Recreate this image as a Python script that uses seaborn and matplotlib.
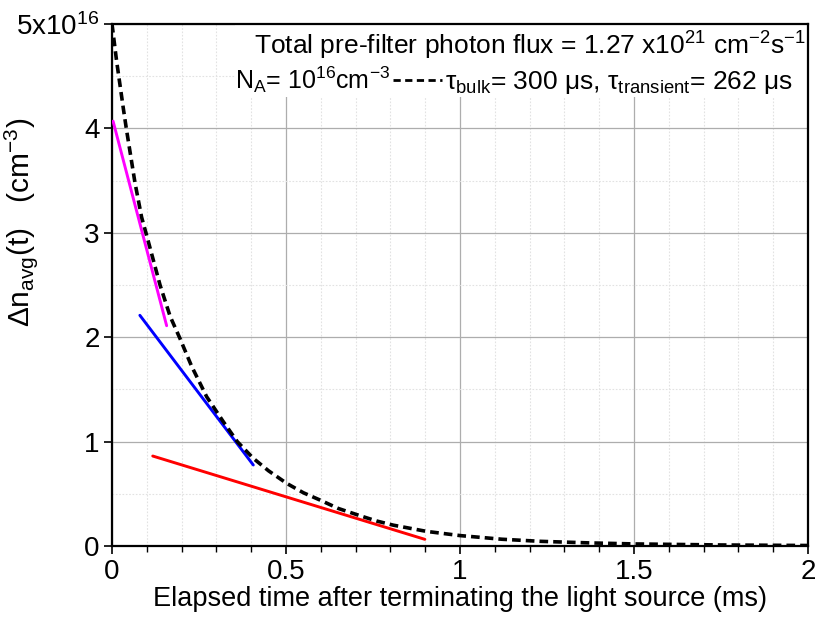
import numpy as np
import pandas as pd
import matplotlib
matplotlib.use("Agg")
import matplotlib.pyplot as plt
import seaborn as sns
from matplotlib.patches import Rectangle
from matplotlib.ticker import MultipleLocator, FixedLocator

# ---- data (values in units of 1e16 cm^-3, time in ms) ----
t_decay = [0, 0.013, 0.033, 0.042, 0.066, 0.085, 0.1, 0.138, 0.167, 0.195, 0.229,
           0.272, 0.32, 0.36, 0.406, 0.45, 0.502, 0.55, 0.598, 0.65, 0.713, 0.76,
           0.808, 0.904, 1.0, 1.12, 1.23, 1.37, 1.5, 1.75, 2.0]
n_decay = [5.0, 4.65, 4.18, 3.98, 3.48, 3.15, 2.97, 2.50, 2.20, 1.99, 1.72,
           1.43, 1.19, 1.0, 0.84, 0.72, 0.60, 0.51, 0.44, 0.36, 0.29, 0.24,
           0.20, 0.14, 0.10, 0.065, 0.045, 0.03, 0.02, 0.01, 0.005]
t_magenta = [0.003, 0.157]
n_magenta = [4.07, 2.11]
t_blue = [0.080, 0.406]
n_blue = [2.21, 0.776]
t_red = [0.117, 0.899]
n_red = [0.862, 0.064]

x_ticks = [0, 0.5, 1, 1.5, 2]
x_ticklabels = ["0", "0.5", "1", "1.5", "2"]
y_ticks = [0, 1, 2, 3, 4, 5]
y_ticklabels = ["0", "1", "2", "3", "4", "5x10$^{16}$"]

sns.set_style("ticks")
plt.rcParams["font.family"] = ["Liberation Sans", "DejaVu Sans"]
plt.rcParams["mathtext.fontset"] = "custom"
plt.rcParams["mathtext.rm"] = "Liberation Sans"
plt.rcParams["mathtext.it"] = "Liberation Sans:italic"
plt.rcParams["mathtext.bf"] = "Liberation Sans:bold"
plt.rcParams["text.color"] = "black"
plt.rcParams["axes.labelcolor"] = "black"
plt.rcParams["xtick.color"] = "black"
plt.rcParams["ytick.color"] = "black"
plt.rcParams["xtick.labelcolor"] = "black"
plt.rcParams["ytick.labelcolor"] = "black"

fig = plt.figure(figsize=(8.17, 6.19), dpi=100)
ax = fig.add_axes([0.1371, 0.1179, 0.8519, 0.8433])

df_decay = pd.DataFrame({"t": t_decay, "n": n_decay})
df_mag = pd.DataFrame({"t": t_magenta, "n": n_magenta})
df_blue = pd.DataFrame({"t": t_blue, "n": n_blue})
df_red = pd.DataFrame({"t": t_red, "n": n_red})

sns.lineplot(data=df_mag, x="t", y="n", ax=ax, color="#ff00ff", lw=2.1, estimator=None, zorder=3)
sns.lineplot(data=df_blue, x="t", y="n", ax=ax, color="#0000ff", lw=2.1, estimator=None, zorder=3)
sns.lineplot(data=df_red, x="t", y="n", ax=ax, color="#ff0000", lw=2.1, estimator=None, zorder=3)
sns.lineplot(data=df_decay, x="t", y="n", ax=ax, color="black", lw=2.6,
             linestyle=(0, (2.4, 1.4)), estimator=None, zorder=4)

ax.set_xlim(0, 2)
ax.set_ylim(0, 5)
ax.xaxis.set_major_locator(FixedLocator(x_ticks))
ax.set_xticklabels(x_ticklabels)
ax.xaxis.set_minor_locator(MultipleLocator(0.1))
ax.yaxis.set_major_locator(FixedLocator(y_ticks))
ax.set_yticklabels(y_ticklabels)
ax.yaxis.set_minor_locator(MultipleLocator(0.5))

ax.set_axisbelow(True)
ax.grid(which="major", color="#adadad", lw=0.9, ls="-")
ax.grid(which="minor", color="#e2e2e2", lw=0.8, ls=(0, (1.5, 1.5)))

ax.tick_params(axis="both", which="major", direction="out", length=6, width=1.2,
               labelsize=20, color="black", labelcolor="black", pad=3)
ax.tick_params(axis="x", which="minor", direction="out", length=4, width=1.0, color="black")
ax.tick_params(axis="y", which="minor", length=0)
for s in ax.spines.values():
    s.set_visible(True)
    s.set_color("black")
    s.set_linewidth(1.6)

ax.set_xlabel("Elapsed time after terminating the light source (ms)", fontsize=19.5,
              labelpad=1, color="black")
ax.set_ylabel("\u0394n$_{\\mathrm{avg}}$(t)   (cm$^{-3}$)", fontsize=21.5, color="black")
ax.yaxis.set_label_coords(-0.104, 0.62)

# white box behind annotation text
ax.add_patch(Rectangle((0.177, 0.86), 0.823, 0.14, transform=ax.transAxes,
                       facecolor="white", edgecolor="none", zorder=1))

ax.text(0.997, 0.941, "Total pre-filter photon flux = 1.27 x10$^{21}$ cm$^{-2}$s$^{-1}$",
        transform=ax.transAxes, ha="right", va="baseline", fontsize=19, zorder=5)
ax.text(0.3994, 0.875, "N$_{\\mathrm{A}}$= 10$^{16}$cm$^{-3}$",
        transform=ax.transAxes, ha="right", va="baseline", fontsize=18, zorder=5)
ax.plot([0.404, 0.474], [0.893, 0.893], transform=ax.transAxes, color="black",
        lw=2.0, linestyle=(0, (2.6, 1.6)), zorder=5)
ax.text(0.478, 0.875, "\u03c4$_{\\mathrm{bulk}}$= 300 \u03bcs, \u03c4$_{\\mathrm{transient}}$= 262 \u03bcs",
        transform=ax.transAxes, ha="left", va="baseline", fontsize=19, zorder=5)

fig.savefig("out.png", dpi=100)
